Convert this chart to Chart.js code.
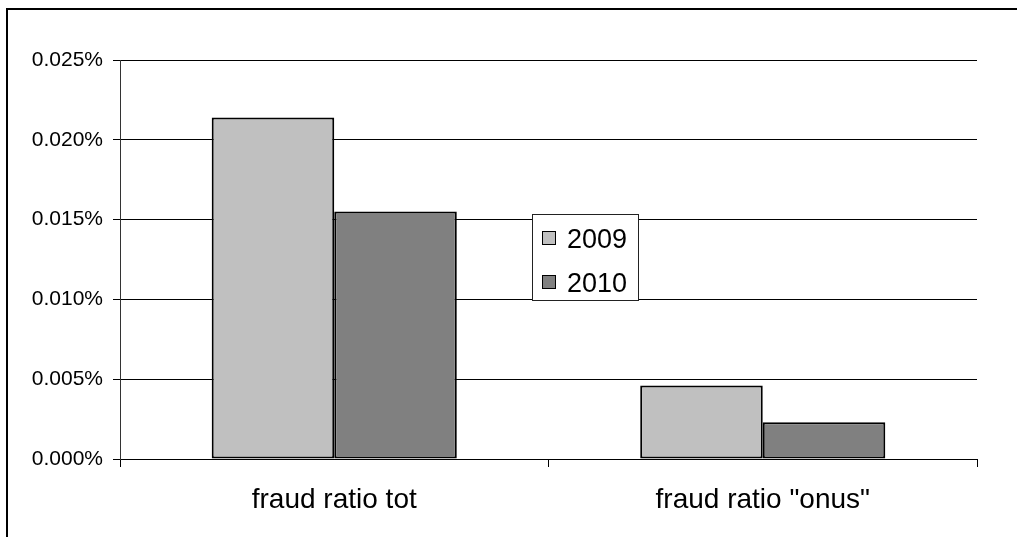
<!DOCTYPE html>
<html>
<head>
<meta charset="utf-8">
<script src="https://cdn.jsdelivr.net/npm/chart.js@4/dist/chart.umd.min.js"></script>
<style>
html,body{margin:0;padding:0;background:#fff;}
#wrap{position:relative;width:1017px;height:537px;}
</style>
</head>
<body>
<div id="wrap"><canvas id="c" width="1017" height="537"></canvas></div>
<script>
const categories = ['fraud ratio tot', 'fraud ratio "onus"'];
const seriesNames = ['2009', '2010'];
const values2009 = [0.0214, 0.0046];
const values2010 = [0.0155, 0.0023];
const yTicks = [0, 0.005, 0.010, 0.015, 0.020, 0.025];

const FONT = "'Liberation Sans', Arial, sans-serif";

const frame = {
  id: 'frame',
  beforeDraw(chart) {
    const ctx = chart.ctx;
    ctx.save();
    ctx.fillStyle = '#fff';
    ctx.fillRect(0, 0, chart.width, chart.height);
    ctx.strokeStyle = '#000';
    ctx.lineWidth = 2;
    ctx.strokeRect(7, 9, 1200, 1200);
    ctx.restore();
  }
};

const boxLegend = {
  id: 'boxLegend',
  afterDraw(chart) {
    const ctx = chart.ctx;
    const x = 532, y = 214, w = 106, h = 86;
    ctx.save();
    ctx.fillStyle = '#fff';
    ctx.fillRect(x, y, w, h);
    ctx.strokeStyle = '#222';
    ctx.lineWidth = 1;
    ctx.strokeRect(x + 0.5, y + 0.5, w, h);
    ctx.font = '27px ' + FONT;
    ctx.textBaseline = 'alphabetic';
    chart.data.datasets.forEach((ds, i) => {
      const sy = 231 + i * 44;
      ctx.fillStyle = ds.backgroundColor;
      ctx.fillRect(542, sy, 13, 13);
      ctx.strokeStyle = '#000';
      ctx.lineWidth = 1;
      ctx.strokeRect(542.5, sy + 0.5, 13, 13);
      ctx.fillStyle = '#000';
      ctx.fillText(ds.label, 567, sy + 17);
    });
    ctx.restore();
  }
};

new Chart(document.getElementById('c'), {
  type: 'bar',
  data: {
    labels: categories,
    datasets: [
      { label: seriesNames[0], data: values2009, backgroundColor: '#C0C0C0', borderColor: '#000', borderWidth: 2, borderSkipped: false, categoryPercentage: 0.572, barPercentage: 1.0 },
      { label: seriesNames[1], data: values2010, backgroundColor: '#808080', borderColor: '#000', borderWidth: 2, borderSkipped: false, categoryPercentage: 0.572, barPercentage: 1.0 }
    ]
  },
  options: {
    responsive: false,
    animation: false,
    devicePixelRatio: 1,
    layout: { padding: { left: 0, right: 40, top: 60, bottom: 0 } },
    plugins: { legend: { display: false }, tooltip: { enabled: false } },
    scales: {
      x: {
        grid: { display: true, drawOnChartArea: false, drawTicks: true, tickLength: 8, color: '#000', offset: true },
        border: { display: true, color: '#000', width: 1 },
        ticks: { color: '#000', font: { family: FONT, size: 28 }, padding: 16, maxRotation: 0 },
        afterFit(s) { s.height = 78; }
      },
      y: {
        min: 0, max: 0.025,
        afterBuildTicks(s) { s.ticks = yTicks.map(v => ({ value: v })); },
        grid: { color: '#000', lineWidth: 1, drawTicks: true, tickLength: 7 },
        border: { display: true, color: '#333', width: 1 },
        ticks: { color: '#000', font: { family: FONT, size: 21 }, padding: 10,
          callback: v => v.toFixed(3) + '%' },
        afterFit(s) { s.width = 120; }
      }
    }
  },
  plugins: [frame, boxLegend]
});
</script>
</body>
</html>
